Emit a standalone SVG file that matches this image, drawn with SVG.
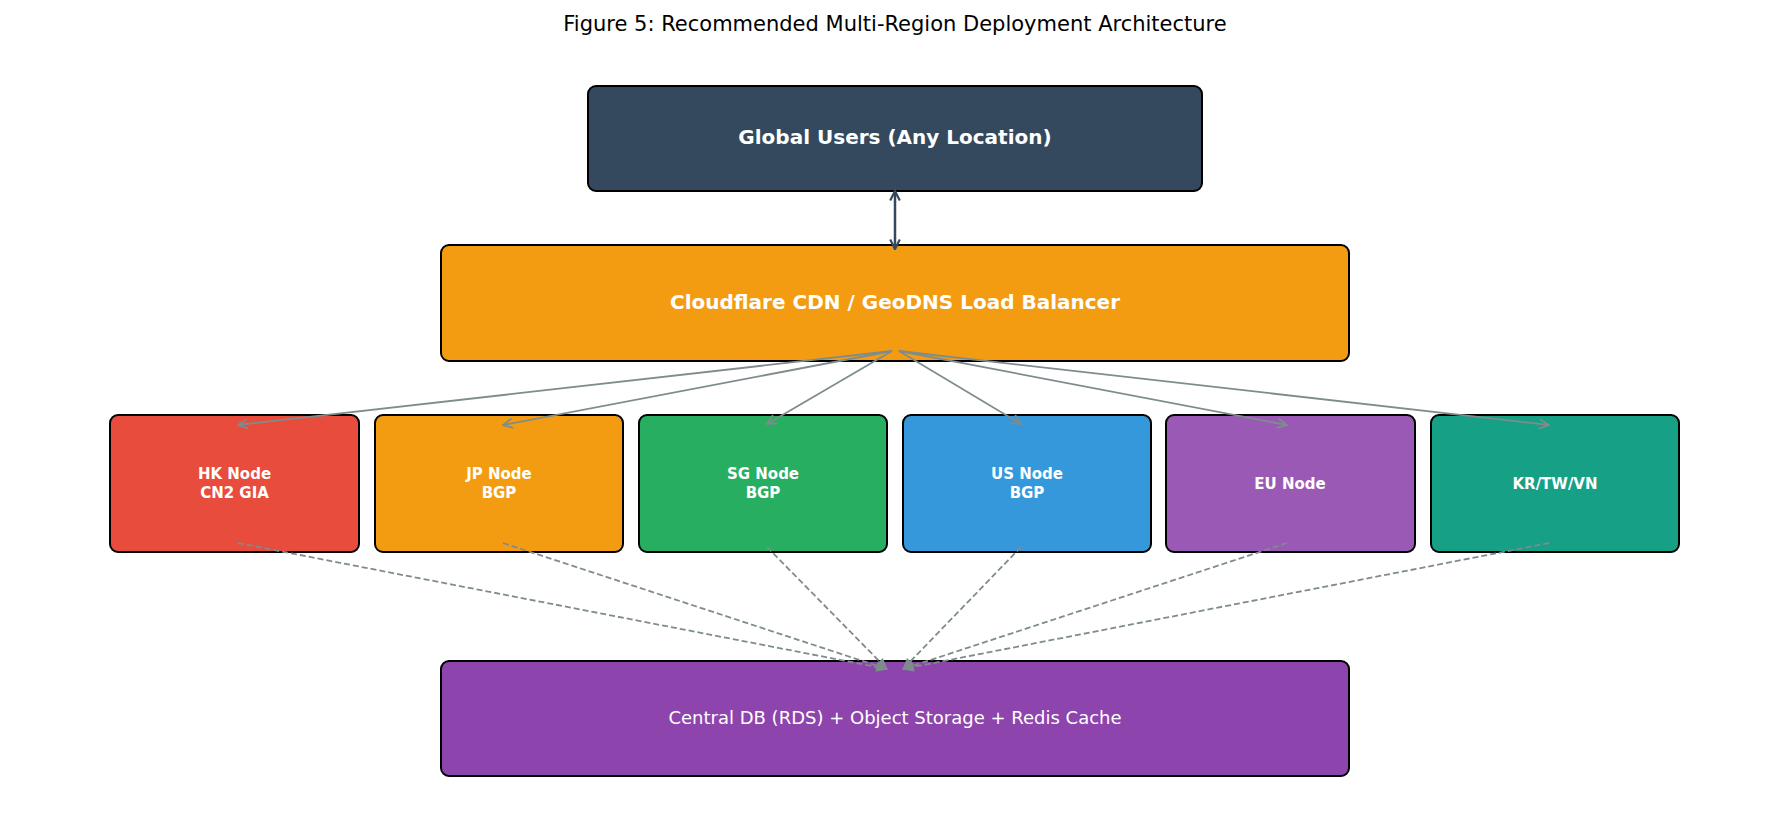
<svg xmlns="http://www.w3.org/2000/svg" width="1789" height="814" viewBox="0 0 1789 814">
<defs>
<style>
.b{stroke:#000;stroke-width:2}
text{font-family:"DejaVu Sans",sans-serif;fill:#fff;text-anchor:middle}
.big{font-size:20px;font-weight:bold}
.n{font-size:15px;font-weight:bold}
.s{stroke:#7f8c8d;stroke-width:1.8;fill:none}
.d{stroke-dasharray:6,3}
</style>
<marker id="a" viewBox="0 0 10 10" refX="9" refY="5" markerWidth="12" markerHeight="12" markerUnits="userSpaceOnUse" orient="auto-start-reverse"><path d="M1,1 L9,5 L1,9" fill="none" stroke="#7f8c8d" stroke-width="1.5"/></marker>
<marker id="ad" viewBox="0 0 10 10" refX="9" refY="5" markerWidth="12" markerHeight="12" markerUnits="userSpaceOnUse" orient="auto-start-reverse"><path d="M1,1 L9,5 L1,9" fill="none" stroke="#34495e" stroke-width="1.8"/></marker>
<marker id="af" viewBox="0 0 10 10" refX="9" refY="5" markerWidth="12" markerHeight="12" markerUnits="userSpaceOnUse" orient="auto"><path d="M0,1 L10,5 L0,9 z" fill="#7f8c8d"/></marker>
</defs>
<rect width="1789" height="814" fill="#fff"/>
<text x="895" y="31" style="font-size:21px;fill:#000">Figure 5: Recommended Multi-Region Deployment Architecture</text>
<g id="users"><rect class="b" x="588" y="86" width="614" height="105" rx="8" fill="#34495e"/><text class="big" x="895" y="144">Global Users (Any Location)</text></g>
<g id="cdn"><rect class="b" x="441" y="245" width="908" height="116" rx="8" fill="#f39c12"/><text class="big" x="895" y="309">Cloudflare CDN / GeoDNS Load Balancer</text></g>
<g id="hk"><rect class="b" x="110" y="415" width="249" height="137" rx="8" fill="#e74c3c"/><text class="n" x="234.5" y="479">HK Node</text><text class="n" x="234.5" y="498">CN2 GIA</text></g>
<g id="jp"><rect class="b" x="375" y="415" width="248" height="137" rx="8" fill="#f39c12"/><text class="n" x="499" y="479">JP Node</text><text class="n" x="499" y="498">BGP</text></g>
<g id="sg"><rect class="b" x="639" y="415" width="248" height="137" rx="8" fill="#27ae60"/><text class="n" x="763" y="479">SG Node</text><text class="n" x="763" y="498">BGP</text></g>
<g id="us"><rect class="b" x="903" y="415" width="248" height="137" rx="8" fill="#3498db"/><text class="n" x="1027" y="479">US Node</text><text class="n" x="1027" y="498">BGP</text></g>
<g id="eu"><rect class="b" x="1166" y="415" width="249" height="137" rx="8" fill="#9b59b6"/><text class="n" x="1290" y="489">EU Node</text></g>
<g id="kr"><rect class="b" x="1431" y="415" width="248" height="137" rx="8" fill="#16a085"/><text class="n" x="1555" y="489">KR/TW/VN</text></g>
<g id="db"><rect class="b" x="441" y="661" width="908" height="115" rx="8" fill="#8e44ad"/><text x="895" y="724" style="font-size:18px">Central DB (RDS) + Object Storage + Redis Cache</text></g>
<g id="connectors">
<line x1="895" y1="191" x2="895" y2="249" stroke="#34495e" stroke-width="2.5" marker-start="url(#ad)" marker-end="url(#ad)"/>
<line class="s" x1="892" y1="351" x2="238" y2="425" marker-end="url(#a)"/>
<line class="s" x1="892" y1="351" x2="503" y2="425" marker-end="url(#a)"/>
<line class="s" x1="892" y1="351" x2="767" y2="424" marker-end="url(#a)"/>
<line class="s" x1="899" y1="351" x2="1021" y2="424" marker-end="url(#a)"/>
<line class="s" x1="899" y1="351" x2="1287" y2="425" marker-end="url(#a)"/>
<line class="s" x1="899" y1="351" x2="1549" y2="425" marker-end="url(#a)"/>
<line class="s d" x1="238" y1="543" x2="887" y2="669" marker-end="url(#af)"/>
<line class="s d" x1="503" y1="543" x2="887" y2="669" marker-end="url(#af)"/>
<line class="s d" x1="767" y1="547" x2="887" y2="669" marker-end="url(#af)"/>
<line class="s d" x1="1021" y1="547" x2="903" y2="669" marker-end="url(#af)"/>
<line class="s d" x1="1287" y1="543" x2="903" y2="669" marker-end="url(#af)"/>
<line class="s d" x1="1549" y1="543" x2="903" y2="669" marker-end="url(#af)"/>
</g>
</svg>
